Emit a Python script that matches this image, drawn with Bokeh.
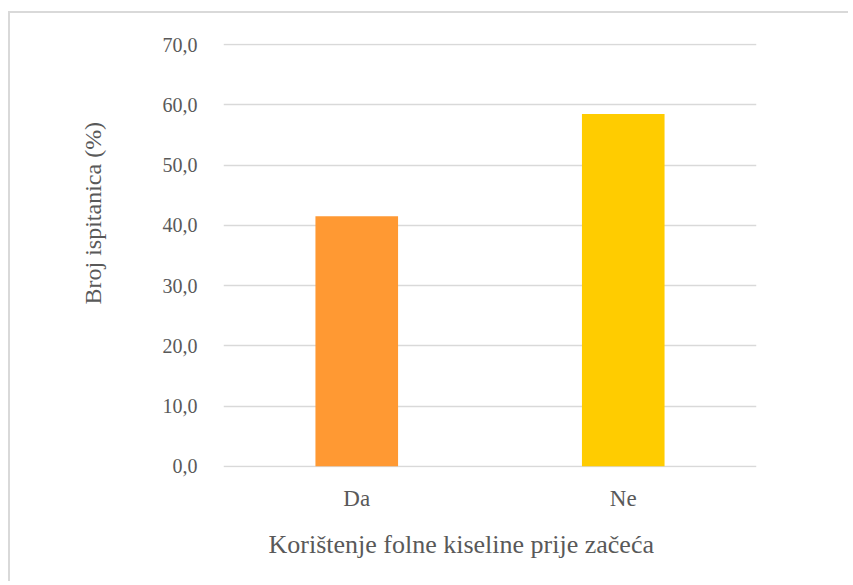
from bokeh.plotting import figure
from bokeh.models import ColumnDataSource, FixedTicker, Range1d, Title
from bokeh.embed import file_html
from bokeh.resources import INLINE

categories = ["Da", "Ne"]
values = [41.5, 58.5]
bar_colors = ["#FF9933", "#FFCC00"]
y_ticks = [0, 10, 20, 30, 40, 50, 60, 70]
y_tick_labels = ["0,0", "10,0", "20,0", "30,0", "40,0", "50,0", "60,0", "70,0"]
x_title = "Korištenje folne kiseline prije začeća"
y_title = "Broj ispitanica (%)"

FONT = "Liberation Serif"
TXT = "#595959"
GRID = "#d9d9d9"

src = ColumnDataSource(dict(cat=categories, val=values, color=bar_colors))

p = figure(
    x_range=categories,
    y_range=Range1d(-0.2, 70.2),
    width=840, height=570,
    output_backend="svg", toolbar_location=None,
    min_border_left=213, min_border_right=94,
    min_border_top=30, min_border_bottom=116,
)
p.styles = {"margin-left": "8px", "margin-top": "11px",
            "border-top": "2px solid #d9d9d9", "border-left": "2px solid #d9d9d9"}
p.outline_line_color = None
p.background_fill_color = "white"
p.border_fill_color = "white"

p.vbar(x="cat", top="val", width=0.31, color="color", source=src, line_color=None)

# y axis
p.yaxis.ticker = FixedTicker(ticks=y_ticks)
p.yaxis.major_label_overrides = {t: l for t, l in zip(y_ticks, y_tick_labels)}
p.yaxis.axis_line_color = None
p.yaxis.major_tick_line_color = None
p.yaxis.minor_tick_line_color = None
p.yaxis.major_label_standoff = 20
p.yaxis.major_label_text_font = FONT
p.yaxis.major_label_text_font_size = "20px"
p.yaxis.major_label_text_color = TXT

# x axis
p.xaxis.axis_line_color = None
p.xaxis.major_tick_line_color = None
p.xaxis.major_label_standoff = 12
p.xaxis.major_label_text_font = FONT
p.xaxis.major_label_text_font_size = "23px"
p.xaxis.major_label_text_color = TXT

p.xgrid.grid_line_color = None
p.ygrid.grid_line_color = GRID
p.ygrid.grid_line_width = 1.5

p.add_layout(Title(text=y_title, align="left", vertical_align="middle",
                   offset=163, standoff=105,
                   text_font=FONT, text_font_size="24px", text_font_style="normal",
                   text_color=TXT), "left")
p.add_layout(Title(text=x_title, align="left", vertical_align="bottom",
                   offset=45, standoff=28,
                   text_font=FONT, text_font_size="26px", text_font_style="normal",
                   text_color=TXT), "below")

open("out.html", "w").write(file_html(p, INLINE))
